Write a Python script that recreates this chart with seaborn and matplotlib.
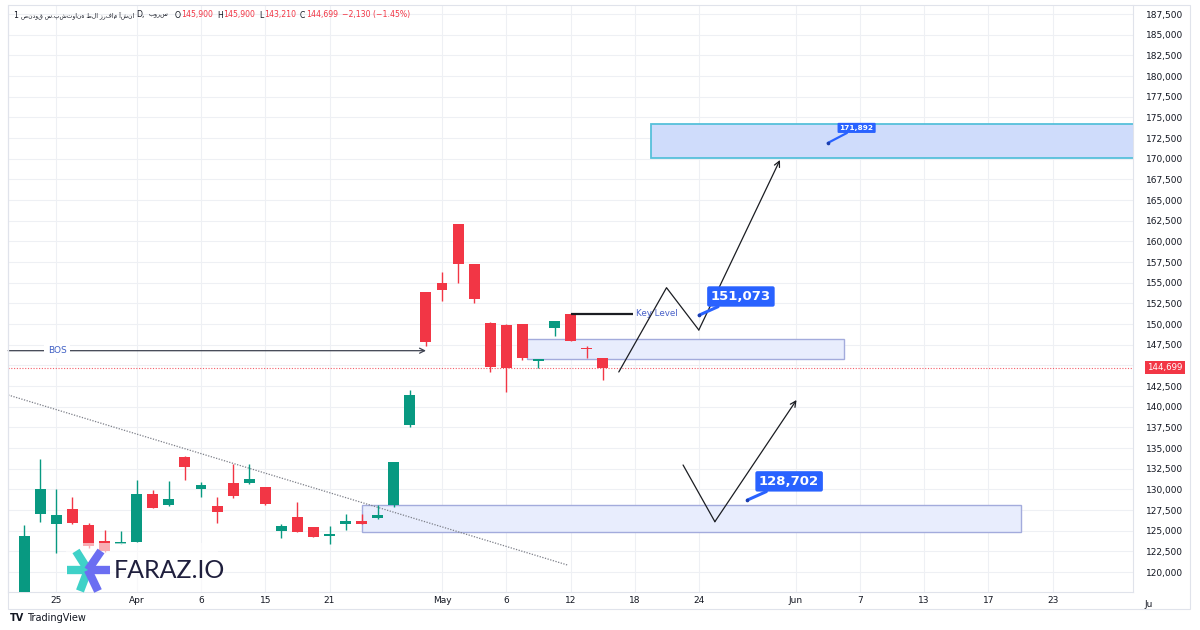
import numpy as np
import pandas as pd
import matplotlib
matplotlib.use("Agg")
import matplotlib.pyplot as plt
from matplotlib.patches import Rectangle
from matplotlib.lines import Line2D
from matplotlib.transforms import blended_transform_factory
import seaborn as sns

# ---------------- data ----------------
opens = [117400, 127020, 125810, 127625, 125690, 123754, 123420, 123670, 129404, 128109,
         133951, 130044, 127988, 130733, 130806, 130249, 125000, 126621, 125484, 124358,
         125810, 126136, 126573, 128109, 137785, 153836, 155002, 162062, 157260, 150160,
         149918, 150002, 145563, 149555, 151212, 147000, 145900]
highs = [125690, 133673, 130007, 129113, 125932, 125085, 125000, 131133, 129922, 131049,
         134000, 130854, 129113, 133068, 133030, 130300, 125810, 128509, 125500, 125568,
         127020, 126980, 128109, 133350, 142019, 153900, 156329, 162100, 157300, 150200,
         149950, 150050, 145800, 150400, 151300, 147378, 145900]
lows = [117000, 126087, 122338, 125800, 122950, 122400, 123400, 123600, 127700, 128000,
        131133, 129113, 125895, 128918, 130700, 128070, 124080, 124800, 124200, 123379,
        125133, 125750, 126378, 127904, 137506, 147300, 152784, 155002, 152506, 144160,
        141814, 145700, 144720, 148587, 147900, 145853, 143210]
closes = [124359, 130007, 126862, 125895, 123149, 122544, 123480, 129404, 127783, 128797,
          132741, 130528, 127298, 129197, 131290, 128194, 125568, 124878, 124274, 124564,
          126136, 125810, 126934, 133310, 141414, 147825, 154080, 157260, 152990, 144801,
          144720, 145926, 145769, 150365, 147946, 146950, 144699]

xtick_pos = [2, 7, 11, 15, 19, 26, 30, 34, 38, 42, 48, 52, 56, 60, 64]
xtick_labels = ["25", "Apr", "6", "15", "21", "May", "6", "12", "18", "24",
                "Jun", "7", "13", "17", "23"]
cut_label_pos = 70
cut_label = "Ju"
ytick_vals = list(range(120000, 187501, 2500))
hidden_tick = 145000

last_price = 144699
bos_level = 146773
bos_x = [-1.0, 25.0]
trend_x = [-1.0, 33.8]
trend_y = [141414, 120851]

zone_low = [21.0, 62.0, 124843, 128109]
zone_mid = [31.3, 51.0, 145733, 148151]
zone_top = [39.0, 80.0, 170082, 174194]

key_level = 151212
key_x = [34.0, 37.9]

up_path_x = [37.0, 39.97, 41.98, 47.03]
up_path_y = [144197, 154393, 149277, 169840]
low_path_x = [41.0, 42.98, 48.06]
low_path_y = [132947, 126087, 140809]

callout_vals = [151073, 128702, 171892]
callout_tip_x = [42.0, 45.0, 50.0]
callout_box_x = [44.6, 47.6, 51.8]
callout_box_y = [153329, 130964, 173723]
callout_size = [9.5, 9.5, 5.3]

header_ohlc = ["145,900", "145,900", "143,210", "144,699"]
header_change = "−2,130 (−1.45%)"
header_name = "صندوق س.پشتوانه طلا زرفام آشنا"
header_exchange = "بورس"

# ---------------- style ----------------
GREEN = "#089981"
RED = "#f23645"
BLUE = "#2962ff"
TXT = "#131722"
GRID = "#eef0f4"
BORDER = "#e0e3eb"

sns.set_theme(style="white")
plt.rcParams["font.family"] = ["DejaVu Sans"]

W, H = 1200, 630
fig = plt.figure(figsize=(12, 6.3), dpi=100)
fig.patch.set_facecolor("white")
ax = fig.add_axes([8 / W, 1 - 592 / H, 1125 / W, 587 / H])
ax.set_facecolor("white")
ax.set_xlim(-1.01, 69.0)
ax.set_ylim(117583, 188589)

# grid / ticks
ax.set_xticks(xtick_pos)
ax.set_xticklabels(xtick_labels)
ax.set_yticks(ytick_vals)
ax.set_yticklabels(["" if v == hidden_tick else f"{v:,}" for v in ytick_vals])
ax.grid(True, color=GRID, lw=0.8, zorder=0)
ax.set_axisbelow(True)
ax.yaxis.tick_right()
ax.tick_params(axis="y", length=0, pad=9, labelsize=6.5, labelcolor=TXT)
ax.tick_params(axis="x", length=0, pad=3, labelsize=6.5, labelcolor=TXT)
for s in ax.spines.values():
    s.set_color(BORDER)
    s.set_linewidth(0.8)
ax.spines["top"].set_visible(False)
ax.set_xlabel("")
ax.set_ylabel("")

# zones
def zone(z, fc, ec, lw):
    ax.add_patch(Rectangle((z[0], z[2]), z[1] - z[0], z[3] - z[2],
                           facecolor=fc, edgecolor=ec, lw=lw, zorder=1.5))

zone(zone_low, "#e8edfd", "#a3abdc", 1.0)
zone(zone_mid, "#e8edfd", "#a3abdc", 1.0)
zone(zone_top, "#cfdcfb", "#56c0da", 1.3)

# last price line
ax.axhline(last_price, color=RED, lw=0.8, ls=(0, (1, 1.5)), alpha=0.8, zorder=2)

# trend line (dotted)
sns.lineplot(x=trend_x, y=trend_y, ax=ax, color="#7c7f88", lw=0.9,
             linestyle=(0, (1, 1.2)), sort=False, estimator=None, zorder=2)

# BOS line
ax.annotate("", xy=(bos_x[1], bos_level), xytext=(bos_x[0], bos_level),
            arrowprops=dict(arrowstyle="->", color="#3d4250", lw=0.9,
                            shrinkA=0, shrinkB=0, mutation_scale=9), zorder=2)
ax.text(2.04, bos_level, "BOS", color="#3f5fc4", fontsize=6.5, ha="center",
        va="center", zorder=3,
        bbox=dict(boxstyle="square,pad=0.35", fc="white", ec="none"))

# candles
df = pd.DataFrame({"i": np.arange(len(opens)), "open": opens, "high": highs,
                   "low": lows, "close": closes})
up = df["close"] >= df["open"]
colors = np.where(up, GREEN, RED)
ax.vlines(df["i"], df["low"], df["high"], colors=colors, lw=1.0, zorder=3)
bottom = np.minimum(df["open"], df["close"])
height = np.maximum(np.abs(df["close"] - df["open"]), 160)
ax.bar(df["i"], height, bottom=bottom, width=0.68, color=colors, lw=0, zorder=4)

# key level
ax.plot(key_x, [key_level, key_level], color="#1b1d22", lw=1.6, zorder=5,
        solid_capstyle="butt")
ax.text(38.1, key_level, "Key Level", color="#4a62c9", fontsize=6.3,
        ha="left", va="center", zorder=5)

# projected paths
sns.lineplot(x=up_path_x[:-1], y=up_path_y[:-1], ax=ax, color="#1b1d22", lw=0.9,
             sort=False, estimator=None, zorder=6)
ax.annotate("", xy=(up_path_x[-1], up_path_y[-1]), xytext=(up_path_x[-2], up_path_y[-2]),
            arrowprops=dict(arrowstyle="->", color="#1b1d22", lw=0.9,
                            shrinkA=0, shrinkB=0, mutation_scale=10), zorder=6)
sns.lineplot(x=low_path_x[:-1], y=low_path_y[:-1], ax=ax, color="#1b1d22", lw=0.9,
             sort=False, estimator=None, zorder=6)
ax.annotate("", xy=(low_path_x[-1], low_path_y[-1]), xytext=(low_path_x[-2], low_path_y[-2]),
            arrowprops=dict(arrowstyle="->", color="#1b1d22", lw=0.9,
                            shrinkA=0, shrinkB=0, mutation_scale=10), zorder=6)

# callouts
for v, tx, bx, by, fs in zip(callout_vals, callout_tip_x, callout_box_x,
                             callout_box_y, callout_size):
    ax.annotate(f"{v:,}", xy=(tx, v), xytext=(bx, by), ha="center", va="center",
                color="white", fontweight="bold", fontsize=fs, zorder=7,
                bbox=dict(boxstyle="round,pad=0.28,rounding_size=0.15",
                          fc=BLUE, ec="none"),
                arrowprops=dict(arrowstyle="-", color=BLUE, lw=2.2 if fs > 6 else 1.6,
                                shrinkA=0, shrinkB=0))
    ax.plot([tx], [v], "o", color="#1c3fae", ms=1.6, zorder=8)

# last price label on price scale
bt = blended_transform_factory(ax.transAxes, ax.transData)
ax.text(1.0125, last_price, f"{last_price:,}", transform=bt, color="white",
        fontsize=6.2, ha="left", va="center", clip_on=False, zorder=9,
        bbox=dict(boxstyle="square,pad=0.25", fc=RED, ec="none"))

# truncated date label under the price scale
bx_t = blended_transform_factory(ax.transData, ax.transAxes)
ax.text(cut_label_pos, -0.0135, cut_label, transform=bx_t, color=TXT, fontsize=6.5,
        ha="center", va="top", clip_on=False)

# outer frame
fig.add_artist(Rectangle((8, H - 609), 1182, 604, transform=None, fill=False,
                         edgecolor=BORDER, lw=0.8))

# header: pieces placed one after another
renderer = fig.canvas.get_renderer()
hy = 1 - 15 / H
pieces = [("1", TXT, 3, 5.6), (header_name, TXT, 2, 4.3), ("D,", TXT, 4, 5.6),
          (header_exchange, TXT, 6, 4.6)]
for lab, val in zip(["O", "H", "L", "C"], header_ohlc):
    pieces.append((lab, TXT, 0.5, 5.6))
    pieces.append((val, RED, 4, 5.6))
pieces.append((header_change, RED, 0, 5.6))
xpos = 13.0
for txt, col, gap, fs in pieces:
    t = fig.text(xpos / W, hy, txt, fontsize=fs, color=col, va="center")
    bb = t.get_window_extent(renderer)
    xpos = bb.x1 + gap

# watermark overlay + FARAZ.IO logo
fig.add_artist(Rectangle((66, H - 592), 152, 49, transform=None,
                         facecolor="white", edgecolor="none", alpha=0.6))
cx, cy = 88, 570
for (ex, ey), col in [((67, 570), "#3fd1c8"), ((76, 551), "#3fd1c8"),
                      ((80, 591), "#3fd1c8"), ((101, 551), "#6b6ef2"),
                      ((110, 570), "#6b6ef2"), ((98, 591), "#6b6ef2")]:
    fig.add_artist(Line2D([cx, ex], [H - cy, H - ey], transform=None, color=col,
                          lw=6.0, solid_capstyle="butt"))
fig.text(114 / W, 1 - 571 / H, "FARAZ.IO", fontsize=18, color="#1f1f3d",
         family=["Lato", "DejaVu Sans"], fontweight="normal", va="center")

# TradingView footer
fig.text(10 / W, 1 - 618 / H, "TV", fontsize=7, color=TXT, fontweight="bold",
         va="center")
fig.text(27 / W, 1 - 618 / H, "TradingView", fontsize=7, color=TXT, va="center")

fig.savefig("out.png", dpi=100, facecolor="white")
